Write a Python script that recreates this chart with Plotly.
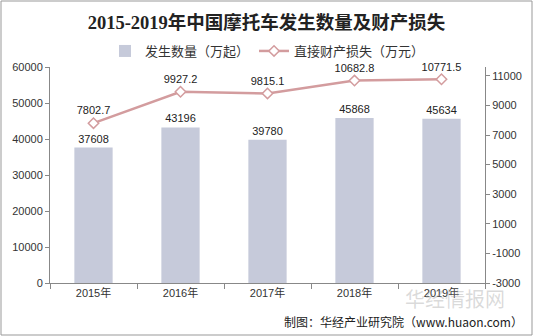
import plotly.graph_objects as go

years = ["2015年", "2016年", "2017年", "2018年", "2019年"]
accidents = [37608, 43196, 39780, 45868, 45634]          # 发生数量（万起）
losses = [7802.7, 9927.2, 9815.1, 10682.8, 10771.5]      # 直接财产损失（万元）

left_ticks = [0, 10000, 20000, 30000, 40000, 50000, 60000]
right_ticks = [-3000, -1000, 1000, 3000, 5000, 7000, 9000, 11000]

W, H = 533, 336
ml, mr, mt, mb = 50, 48, 67, 53
pw, ph = W - ml - mr, H - mt - mb

def px_x(p):
    return (p - ml) / pw

def px_y(p):
    return (H - mb - p) / ph

tick_font = dict(family="Liberation Sans, Arial, Noto Sans CJK SC", size=11, color="#333333")

fig = go.Figure()
fig.add_trace(go.Bar(
    x=years, y=accidents, name="发生数量（万起）",
    marker=dict(color="#C6CADA", line=dict(width=0)),
    width=0.44,
    text=[str(v) for v in accidents], textposition="outside",
    textfont=dict(family="Liberation Sans, Arial", size=11, color="#222222"),
    cliponaxis=False,
))
fig.add_trace(go.Scatter(
    x=years, y=losses, name="直接财产损失（万元）", yaxis="y2",
    mode="lines+markers+text",
    line=dict(color="#D39C9E", width=2.5),
    marker=dict(symbol="diamond", size=8, color="white",
                line=dict(color="#D39C9E", width=1.5)),
    text=[f"{v:.1f}" for v in losses], textposition="top center",
    textfont=dict(family="Liberation Sans, Arial", size=11, color="#222222"),
    cliponaxis=False,
))

fig.update_layout(
    width=W, height=H,
    margin=dict(l=ml, r=mr, t=mt, b=mb),
    paper_bgcolor="white", plot_bgcolor="white",
    title=dict(
        text="<b>2015-2019年中国摩托车发生数量及财产损失</b>",
        x=0.5, xanchor="center", y=1 - 23 / H, yanchor="middle",
        font=dict(family="Liberation Serif, Noto Sans CJK SC", size=18.5, color="#222222"),
    ),
    legend=dict(
        orientation="h", x=0.5, xanchor="center", y=px_y(51), yanchor="middle",
        font=dict(family="Noto Sans CJK SC", size=13, color="#333333"),
        bgcolor="rgba(0,0,0,0)", itemwidth=30, traceorder="normal",
    ),
    xaxis=dict(
        showline=True, linecolor="#888888", linewidth=1,
        ticks="outside", ticklen=5, tickcolor="#888888",
        tickson="boundaries", tickfont=tick_font, showgrid=False,
    ),
    yaxis=dict(
        range=[0, 60000], tickvals=left_ticks,
        ticktext=[str(v) for v in left_ticks], showgrid=False,
        showline=True, linecolor="#888888", linewidth=1,
        ticks="outside", ticklen=4, tickcolor="#888888",
        tickfont=tick_font, zeroline=False,
    ),
    yaxis2=dict(
        overlaying="y", side="right", range=[-3000, 11600],
        tickvals=right_ticks, ticktext=[str(v) for v in right_ticks],
        showgrid=False,
        showline=True, linecolor="#888888", linewidth=1,
        ticks="outside", ticklen=4, tickcolor="#888888",
        tickfont=tick_font, zeroline=False,
    ),
    shapes=[dict(
        type="rect", xref="paper", yref="paper",
        x0=px_x(1), x1=px_x(532), y0=px_y(335), y1=px_y(1),
        line=dict(color="#999999", width=1),
    )],
    annotations=[
        dict(text="华经情报网", xref="paper", yref="paper",
             x=px_x(455), y=px_y(298), xanchor="center", yanchor="middle",
             showarrow=False,
             font=dict(family="Noto Sans CJK SC", size=20, color="rgba(150,150,150,0.35)")),
        dict(text="制图：华经产业研究院（www.huaon.com）", xref="paper", yref="paper",
             x=px_x(525), y=px_y(321), xanchor="right", yanchor="middle",
             showarrow=False,
             font=dict(family="Noto Sans CJK SC", size=12, color="#222222")),
    ],
)

fig.write_html("out.html")
